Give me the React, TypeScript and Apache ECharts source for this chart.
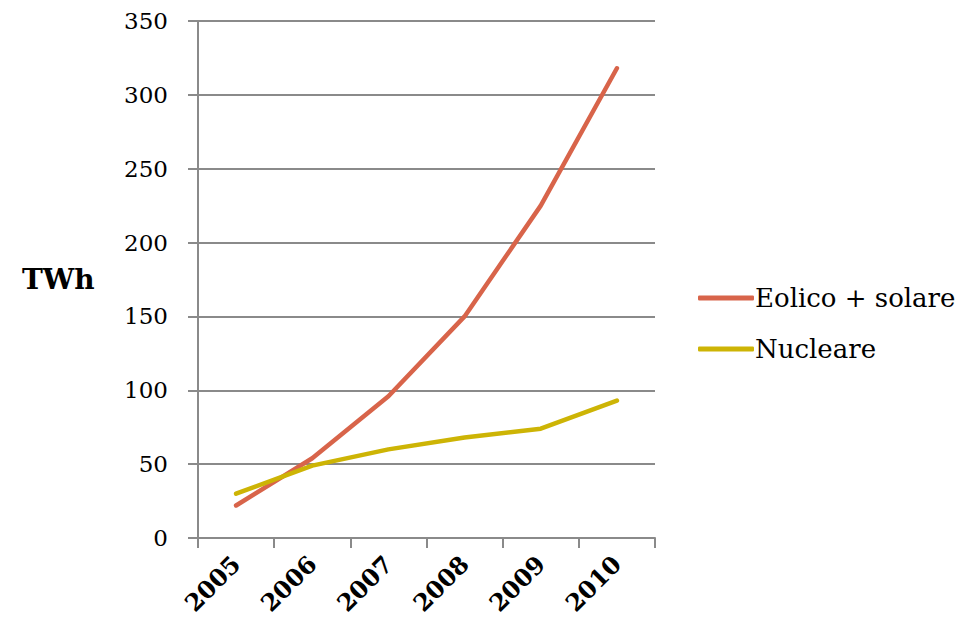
import React, { useEffect, useRef } from "react";
import * as echarts from "echarts";

const years = ["2005", "2006", "2007", "2008", "2009", "2010"];
const eolicoSolare = [22, 54, 96, 150, 225, 318];
const nucleare = [30, 49, 60, 68, 74, 93];
const seriesNames = ["Eolico + solare", "Nucleare"];
const unitLabel = "TWh";

const FONT = "DejaVu Serif";

export default function App() {
  const ref = useRef<HTMLDivElement>(null);
  useEffect(() => {
    if (!ref.current) return;
    const chart = echarts.init(ref.current, null, { renderer: "svg" });
    chart.setOption({
      animation: false,
      backgroundColor: "#ffffff",
      grid: { left: 198, right: 321, top: 21, bottom: 97, containLabel: false },
      graphic: [
        {
          type: "text",
          left: 22,
          top: 265,
          style: { text: unitLabel, font: `bold 28px "${FONT}"`, fill: "#000" },
        },
      ],
      legend: {
        orient: "vertical",
        left: 693,
        top: 280,
        itemWidth: 56,
        itemHeight: 5,
        itemGap: 25,
        icon: "roundRect",
        textStyle: { fontFamily: FONT, fontSize: 26, color: "#000", padding: [0, 0, 0, -4] },
        data: seriesNames,
      },
      xAxis: {
        type: "category",
        data: years,
        boundaryGap: true,
        axisLine: { lineStyle: { color: "#8a8a8a", width: 2 } },
        axisTick: { show: true, length: 10, lineStyle: { color: "#8a8a8a", width: 2 } },
        axisLabel: {
          rotate: 45,
          fontFamily: FONT,
          fontSize: 24,
          fontWeight: "bold",
          color: "#000",
          margin: 22,
        },
      },
      yAxis: {
        type: "value",
        min: 0,
        max: 350,
        interval: 50,
        axisLine: { show: true, lineStyle: { color: "#8a8a8a", width: 2 } },
        axisTick: { show: true, length: 10, lineStyle: { color: "#8a8a8a", width: 2 } },
        splitLine: { lineStyle: { color: "#8a8a8a", width: 2 } },
        axisLabel: { fontFamily: FONT, fontSize: 23, color: "#000", margin: 30 },
      },
      series: [
        {
          name: seriesNames[0],
          type: "line",
          data: eolicoSolare,
          showSymbol: false,
          symbol: "none",
          lineStyle: { color: "#D8644A", width: 4.5, cap: "round" },
          itemStyle: { color: "#D8644A" },
          z: 3,
        },
        {
          name: seriesNames[1],
          type: "line",
          data: nucleare,
          showSymbol: false,
          symbol: "none",
          lineStyle: { color: "#CDB405", width: 4.5, cap: "round" },
          itemStyle: { color: "#CDB405" },
          z: 4,
        },
      ],
    });
    return () => chart.dispose();
  }, []);
  return <div ref={ref} style={{ width: 976, height: 635, position: "absolute", left: 0, top: 0 }} />;
}
